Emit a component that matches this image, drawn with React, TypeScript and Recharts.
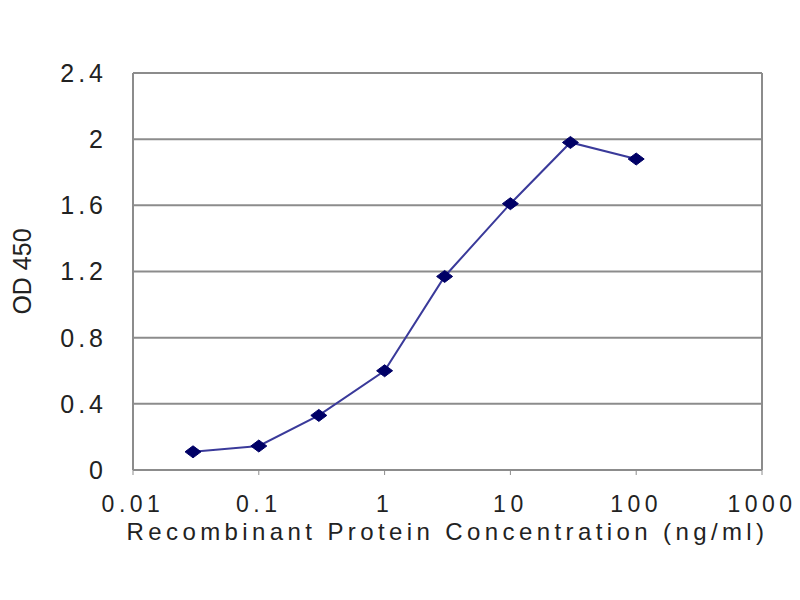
import React from 'react';
import { LineChart, Line, XAxis, YAxis, CartesianGrid, ReferenceLine } from 'recharts';

// ELISA standard curve
const concentrations = [0.03, 0.1, 0.3, 1, 3, 10, 30, 100];
const od450 = [0.11, 0.145, 0.33, 0.6, 1.17, 1.61, 1.98, 1.88];

const xTicks = [0.01, 0.1, 1, 10, 100, 1000];
const yTicks = [0, 0.4, 0.8, 1.2, 1.6, 2, 2.4];

const data = concentrations.map((c, i) => ({ conc: c, od: od450[i] }));

const font = '"Liberation Sans", Arial, sans-serif';

const Diamond = (props: any) => {
  const { cx, cy, index } = props;
  if (cx == null || cy == null) return null;
  return (
    <path
      key={index}
      d={`M${cx - 8},${cy} L${cx},${cy - 6} L${cx + 8},${cy} L${cx},${cy + 6} Z`}
      fill="#000066"
      stroke="#000066"
    />
  );
};

const App: React.FC = () => {
  return (
    <div style={{ position: 'absolute', left: 0, top: 0, width: 800, height: 600, background: '#fff' }}>
      <LineChart
        width={800}
        height={600}
        data={data}
        margin={{ top: 73, right: 38, left: 0, bottom: 0 }}
      >
        <CartesianGrid horizontal vertical={false} stroke="#8c8c8c" strokeWidth={2} />
        <XAxis
          dataKey="conc"
          type="number"
          scale="log"
          domain={[0.01, 1000]}
          ticks={xTicks}
          allowDataOverflow
          height={130}
          tickFormatter={(v: number) => String(v)}
          tick={{ fill: '#222', fontSize: 23, fontFamily: font, letterSpacing: 4.5 }}
          tickSize={5}
          tickMargin={21}
          tickLine={{ stroke: '#8c8c8c' }}
          axisLine={{ stroke: '#8c8c8c', strokeWidth: 2 }}
          label={{
            value: 'Recombinant Protein Concentration (ng/ml)',
            position: 'insideTop',
            offset: 53,
            fill: '#222',
            fontSize: 24,
            fontFamily: font,
            letterSpacing: 4.4,
          }}
        />
        <YAxis
          type="number"
          domain={[0, 2.4]}
          ticks={yTicks}
          width={133}
          tick={{ fill: '#222', fontSize: 25, fontFamily: font, letterSpacing: 4 }}
          tickSize={0}
          tickMargin={26}
          tickLine={false}
          axisLine={{ stroke: '#8c8c8c', strokeWidth: 2 }}
          label={{
            value: 'OD 450',
            angle: -90,
            position: 'insideLeft',
            offset: 22,
            fill: '#222',
            fontSize: 25,
            fontFamily: font,
            style: { textAnchor: 'middle' },
          }}
        />
        <ReferenceLine x={1000} stroke="#8c8c8c" strokeWidth={2} />
        <Line
          dataKey="od"
          stroke="#3a3a9a"
          strokeWidth={2}
          dot={<Diamond />}
          activeDot={false}
          isAnimationActive={false}
        />
      </LineChart>
    </div>
  );
};

export default App;
